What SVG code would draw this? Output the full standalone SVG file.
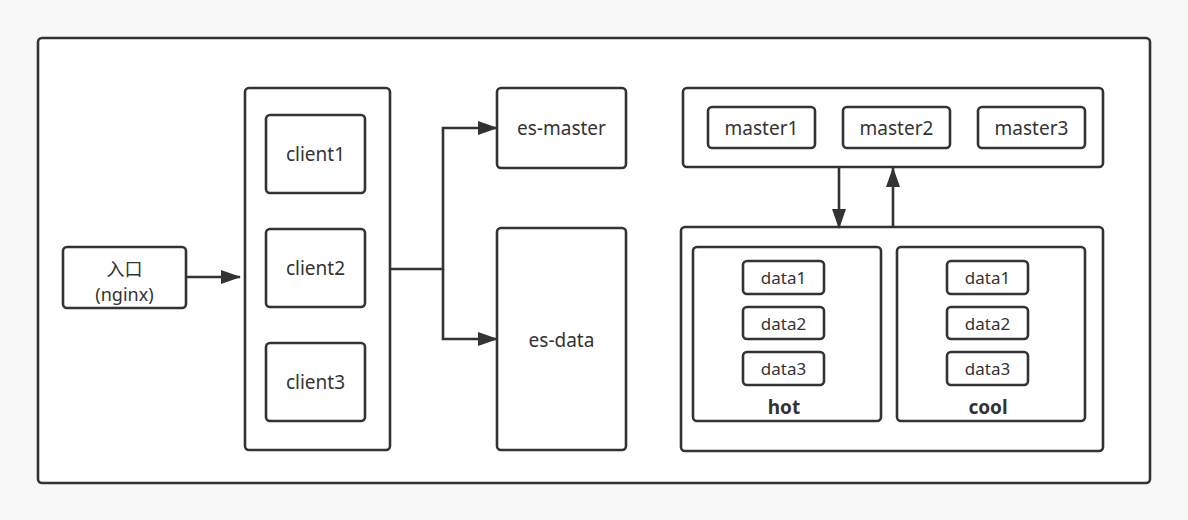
<svg xmlns="http://www.w3.org/2000/svg" width="1188" height="520" viewBox="0 0 1188 520">
<defs>
<style>
.b{fill:#fff;stroke:#333;stroke-width:2.6}
.t{font-family:"Noto Sans","Noto Sans CJK SC",sans-serif;font-size:19px;fill:#333;text-anchor:middle}
.s{font-size:17px}
.e{font-size:18px}
.bold{font-weight:bold;font-size:19px}
.c{fill:none;stroke:#333;stroke-width:2.6}
</style>
<marker id="a" markerWidth="20" markerHeight="14" refX="19" refY="7" orient="auto" markerUnits="userSpaceOnUse">
<path d="M0,0 L20,7 L0,14 Z" fill="#333"/>
</marker>
</defs>
<rect width="1188" height="520" fill="#f8f8f8"/>
<g id="outer"><rect class="b" x="38" y="38" width="1112" height="445" rx="4"/></g>
<g id="entry"><rect class="b" x="63" y="247" width="123" height="61" rx="4"/>
<text class="t e" x="124.5" y="276">入口</text><text class="t e" x="124.5" y="301">(nginx)</text></g>
<g id="clients"><rect class="b" x="245" y="88" width="145" height="362" rx="4"/></g>
<g id="client1"><rect class="b" x="266" y="115" width="99" height="78" rx="4"/><text class="t" x="315.5" y="161">client1</text></g>
<g id="client2"><rect class="b" x="266" y="229" width="99" height="78" rx="4"/><text class="t" x="315.5" y="275">client2</text></g>
<g id="client3"><rect class="b" x="266" y="343" width="99" height="78" rx="4"/><text class="t" x="315.5" y="389">client3</text></g>
<g id="es-master"><rect class="b" x="497" y="88" width="129" height="80" rx="4"/><text class="t" x="561.5" y="135">es-master</text></g>
<g id="es-data"><rect class="b" x="497" y="228" width="129" height="222" rx="4"/><text class="t" x="561.5" y="347">es-data</text></g>
<g id="master-group"><rect class="b" x="683" y="88" width="420" height="79" rx="4"/></g>
<g id="master1"><rect class="b" x="708" y="107" width="107" height="41" rx="4"/><text class="t" x="761.5" y="135">master1</text></g>
<g id="master2"><rect class="b" x="843" y="107" width="107" height="41" rx="4"/><text class="t" x="896.5" y="135">master2</text></g>
<g id="master3"><rect class="b" x="978" y="107" width="107" height="41" rx="4"/><text class="t" x="1031.5" y="135">master3</text></g>
<g id="data-group"><rect class="b" x="681" y="227" width="422" height="224" rx="4"/></g>
<g id="hot"><rect class="b" x="693" y="247" width="188" height="174" rx="4"/><text class="t bold" x="784" y="414">hot</text></g>
<g id="cool"><rect class="b" x="897" y="247" width="188" height="174" rx="4"/><text class="t bold" x="988" y="414">cool</text></g>
<g id="hot-data1"><rect class="b" x="743" y="261" width="81" height="33" rx="4"/><text class="t s" x="783.5" y="284">data1</text></g>
<g id="hot-data2"><rect class="b" x="743" y="307" width="81" height="32" rx="4"/><text class="t s" x="783.5" y="330">data2</text></g>
<g id="hot-data3"><rect class="b" x="743" y="352" width="81" height="33" rx="4"/><text class="t s" x="783.5" y="375">data3</text></g>
<g id="cool-data1"><rect class="b" x="947" y="261" width="81" height="33" rx="4"/><text class="t s" x="987.5" y="284">data1</text></g>
<g id="cool-data2"><rect class="b" x="947" y="307" width="81" height="32" rx="4"/><text class="t s" x="987.5" y="330">data2</text></g>
<g id="cool-data3"><rect class="b" x="947" y="352" width="81" height="33" rx="4"/><text class="t s" x="987.5" y="375">data3</text></g>
<g id="connectors">
<path class="c" d="M186,277 L240,277" marker-end="url(#a)"/>
<path class="c" d="M390,269 L443,269 L443,128 L497,128" marker-end="url(#a)"/>
<path class="c" d="M443,269 L443,339 L497,339" marker-end="url(#a)"/>
<path class="c" d="M839,167 L839,228" marker-end="url(#a)"/>
<path class="c" d="M893,227 L893,168" marker-end="url(#a)"/>
</g>
</svg>
